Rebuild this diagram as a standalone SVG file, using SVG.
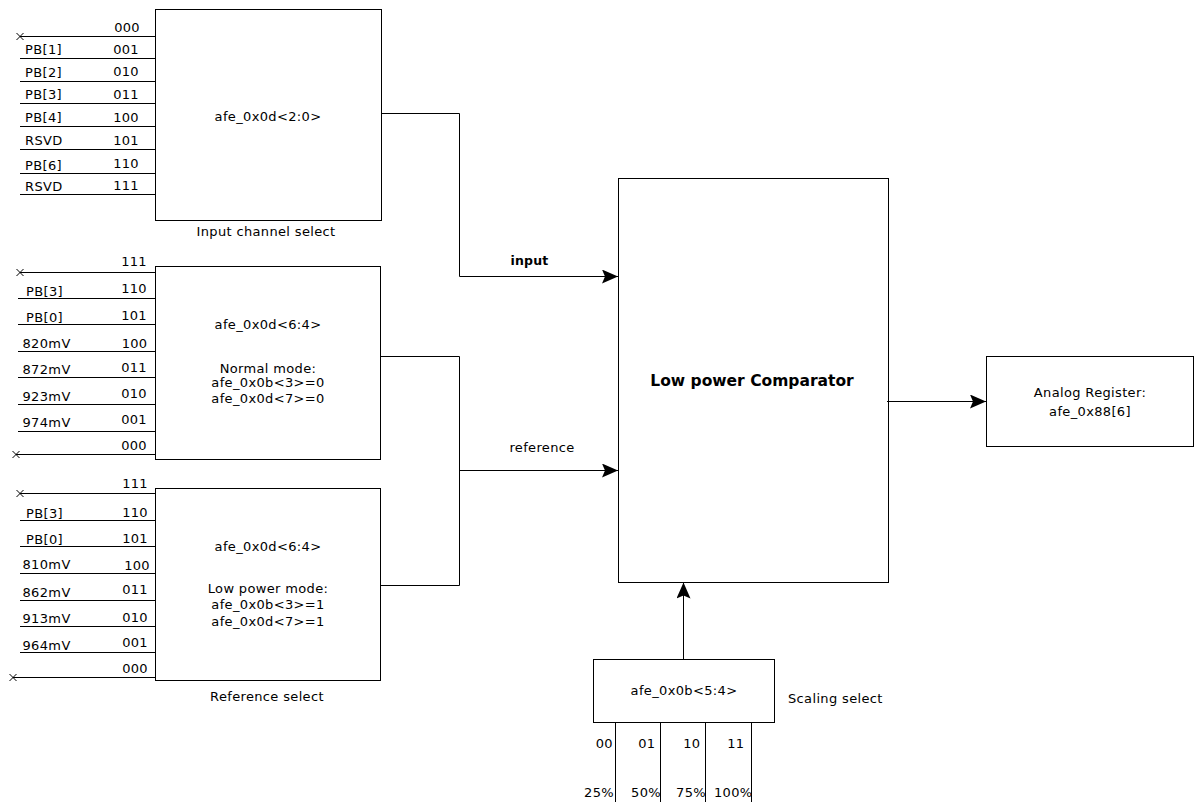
<svg xmlns="http://www.w3.org/2000/svg" width="1195" height="802" viewBox="0 0 1195 802">
<style>
  .t{font-family:"DejaVu Sans","Liberation Sans",sans-serif;font-size:13px;letter-spacing:0.35px;fill:#000}
  .m{text-anchor:middle}
  .e{text-anchor:end}
  .b{font-weight:bold}
  .box{fill:#fff;stroke:#000;stroke-width:1}
  .ln{fill:none;stroke:#000;stroke-width:1}
</style>
<defs>
  <marker id="arr" markerUnits="userSpaceOnUse" markerWidth="17" markerHeight="15" refX="16" refY="7" orient="auto">
    <path d="M0,0 L16,7 L0,14 L3,7 Z" fill="#000"/>
  </marker>
</defs>

<g id="input-select">
  <rect class="box" x="155.5" y="9.5" width="226" height="211"/>
  <text class="t m" x="268" y="121">afe_0x0d&lt;2:0&gt;</text>
  <text class="t m" x="266" y="235.5">Input channel select</text>
  <g class="ln">
    <path d="M20,36.5 H155 M16.5,33 L23.5,40 M16.5,40 L23.5,33"/>
    <path d="M20,58.5 H155 M20,81.5 H155 M20,103.5 H155 M20,126.5 H155 M20,149.5 H155 M20,173.5 H155 M20,194.5 H155"/>
  </g>
  <text class="t e" x="140" y="31.5">000</text>
  <text class="t" x="25" y="54">PB[1]</text><text class="t e" x="139" y="53.5">001</text>
  <text class="t" x="25" y="76.5">PB[2]</text><text class="t e" x="139" y="76">010</text>
  <text class="t" x="25" y="99">PB[3]</text><text class="t e" x="139" y="98.5">011</text>
  <text class="t" x="25" y="122">PB[4]</text><text class="t e" x="139" y="121.5">100</text>
  <text class="t" x="25" y="145">RSVD</text><text class="t e" x="139" y="144.5">101</text>
  <text class="t" x="25" y="170">PB[6]</text><text class="t e" x="139" y="168">110</text>
  <text class="t" x="25" y="190.5">RSVD</text><text class="t e" x="139" y="189.5">111</text>
</g>

<g id="reference-normal">
  <rect class="box" x="155.5" y="266.5" width="225" height="193"/>
  <text class="t m" x="268" y="328.5">afe_0x0d&lt;6:4&gt;</text>
  <text class="t m" x="268" y="372.5">Normal mode:</text>
  <text class="t m" x="268" y="386.5">afe_0x0b&lt;3&gt;=0</text>
  <text class="t m" x="268" y="402.5">afe_0x0d&lt;7&gt;=0</text>
  <g class="ln">
    <path d="M20,272.5 H155 M16.5,269 L23.5,276 M16.5,276 L23.5,269"/>
    <path d="M18,298.5 H155 M18,324.5 H155 M18,351.5 H155 M18,377.5 H155 M18,404.5 H155 M18,431.5 H155"/>
    <path d="M16,454.5 H155 M12.5,451 L19.5,458 M12.5,458 L19.5,451"/>
  </g>
  <text class="t e" x="147" y="266">111</text>
  <text class="t" x="26" y="295.5">PB[3]</text><text class="t e" x="147" y="292.5">110</text>
  <text class="t" x="26" y="321.5">PB[0]</text><text class="t e" x="147" y="320">101</text>
  <text class="t" x="22.5" y="347.5">820mV</text><text class="t e" x="147.5" y="347.5">100</text>
  <text class="t" x="22.5" y="374">872mV</text><text class="t e" x="147" y="371.5">011</text>
  <text class="t" x="22.5" y="400.5">923mV</text><text class="t e" x="147" y="398">010</text>
  <text class="t" x="22.5" y="426.5">974mV</text><text class="t e" x="147" y="424">001</text>
  <text class="t e" x="147" y="450">000</text>
</g>

<g id="reference-lowpower">
  <rect class="box" x="155.5" y="488.5" width="225" height="192"/>
  <text class="t m" x="268" y="550.5">afe_0x0d&lt;6:4&gt;</text>
  <text class="t m" x="268" y="592.5">Low power mode:</text>
  <text class="t m" x="268" y="608.5">afe_0x0b&lt;3&gt;=1</text>
  <text class="t m" x="268" y="626">afe_0x0d&lt;7&gt;=1</text>
  <text class="t m" x="267" y="700.5">Reference select</text>
  <g class="ln">
    <path d="M20,493.5 H155 M16.5,490 L23.5,497 M16.5,497 L23.5,490"/>
    <path d="M20,520.5 H155 M20,546.5 H155 M20,573.5 H155 M20,600.5 H155 M20,626.5 H155 M20,652.5 H155"/>
    <path d="M13,677.5 H155 M9.5,674 L16.5,681 M9.5,681 L16.5,674"/>
  </g>
  <text class="t e" x="148" y="487.5">111</text>
  <text class="t" x="26" y="518">PB[3]</text><text class="t e" x="148" y="516.5">110</text>
  <text class="t" x="26" y="544">PB[0]</text><text class="t e" x="148" y="542.5">101</text>
  <text class="t" x="22.5" y="568.5">810mV</text><text class="t e" x="150" y="570">100</text>
  <text class="t" x="22.5" y="596.5">862mV</text><text class="t e" x="148" y="594">011</text>
  <text class="t" x="22.5" y="622.5">913mV</text><text class="t e" x="148" y="621.5">010</text>
  <text class="t" x="22.5" y="650">964mV</text><text class="t e" x="148" y="646.5">001</text>
  <text class="t e" x="148" y="672.5">000</text>
</g>

<g id="comparator">
  <rect class="box" x="618.5" y="178.5" width="270" height="404"/>
  <text class="t m b" x="752" y="385.5" style="font-size:15.5px;letter-spacing:0">Low power Comparator</text>
</g>

<g id="analog-register">
  <rect class="box" x="986.5" y="356.5" width="207" height="90"/>
  <text class="t m" x="1090" y="396.5">Analog Register:</text>
  <text class="t m" x="1090" y="416">afe_0x88[6]</text>
</g>

<g id="scaling-select">
  <rect class="box" x="593.5" y="659.5" width="181" height="63"/>
  <text class="t m" x="684" y="695">afe_0x0b&lt;5:4&gt;</text>
  <text class="t" x="788" y="702.5">Scaling select</text>
  <path class="ln" d="M615.5,722.5 V802 M660.5,722.5 V802 M705.5,722.5 V802 M751.5,722.5 V802"/>
  <text class="t e" x="613" y="747.5">00</text>
  <text class="t e" x="655.5" y="747.5">01</text>
  <text class="t e" x="700.5" y="747.5">10</text>
  <text class="t e" x="744.5" y="747.5">11</text>
  <text class="t e" x="614" y="796.5">25%</text>
  <text class="t e" x="661" y="796.5">50%</text>
  <text class="t e" x="706" y="796.5">75%</text>
  <text class="t e" x="752.5" y="796.5">100%</text>
</g>

<g id="connectors">
  <path class="ln" d="M381.5,113.5 H459.5 V276.5 H618" marker-end="url(#arr)"/>
  <path class="ln" d="M380.5,356.5 H459.5 V585.5 H380.5"/>
  <path class="ln" d="M459.5,470.5 H618" marker-end="url(#arr)"/>
  <path class="ln" d="M887,401.5 H986" marker-end="url(#arr)"/>
  <path class="ln" d="M683.5,659.5 V582.5" marker-end="url(#arr)"/>
  <text class="t m b" x="529.5" y="265" style="font-size:12.5px;letter-spacing:0.2px">input</text>
  <text class="t m" x="542" y="451.5">reference</text>
</g>
</svg>
